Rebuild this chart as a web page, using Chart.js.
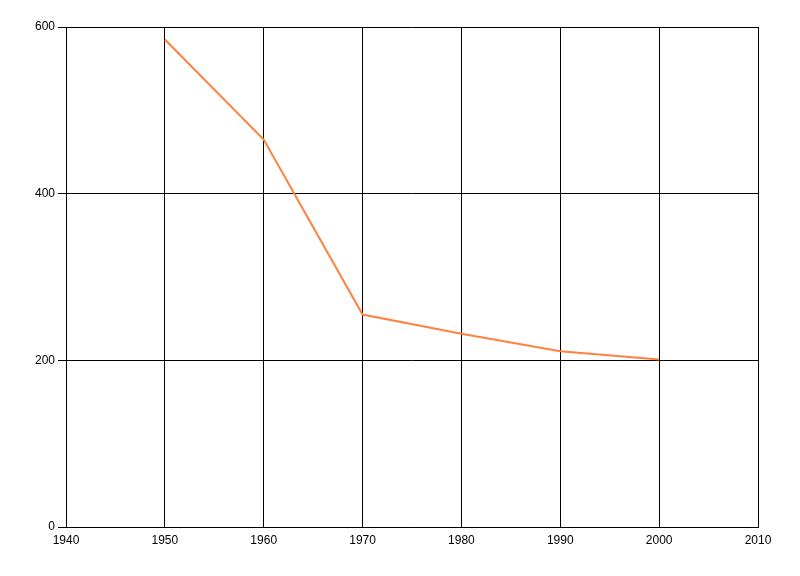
<!doctype html>
<html>
<head>
<meta charset="UTF-8">
<title>chart</title>
<style>
  html, body { margin: 0; padding: 0; background: #fff; }
</style>
</head>
<body>
<canvas id="myLineChart" width="800" height="576"></canvas>
<script src="https://cdn.jsdelivr.net/npm/chart.js@4/dist/chart.umd.min.js"></script>
<script>
// data
var years = [1950, 1960, 1970, 1980, 1990, 2000];
var values = [585, 465, 255, 232, 211, 201];
var xTicks = [1940, 1950, 1960, 1970, 1980, 1990, 2000, 2010];
var yTicks = [0, 200, 400, 600];

var points = [];
for (var i = 0; i < years.length; i++) {
  points.push({x: years[i], y: values[i]});
}

var ctx = document.getElementById("myLineChart");
var myLineChart = new Chart(ctx, {
  type: 'line',
  data: {
    datasets: [
      {
        data: points,
        borderColor: "rgb(255,128,64)",
        backgroundColor: "rgba(0,0,0,0)",
        borderWidth: 2,
        pointRadius: 0,
        tension: 0
      }
    ]
  },
  options: {
    responsive: false,
    animation: false,
    events: [],
    layout: { padding: { top: 27, right: 42, left: 0, bottom: 0 } },
    plugins: { legend: { display: false }, tooltip: { enabled: false } },
    scales: {
      x: {
        type: 'linear',
        min: xTicks[0],
        max: xTicks[xTicks.length - 1],
        afterBuildTicks: function (s) { s.ticks = xTicks.map(function (v) { return {value: v}; }); },
        afterFit: function (s) { s.height = 49; },
        grid: { color: "#000", lineWidth: 1, drawTicks: false },
        border: { color: "#000", width: 1 },
        ticks: {
          color: "#000",
          padding: 6,
          maxRotation: 0,
          font: { family: "'Liberation Sans', sans-serif", size: 12 },
          callback: function (v) { return String(v); }
        }
      },
      y: {
        min: 0,
        max: 600,
        afterBuildTicks: function (s) { s.ticks = yTicks.map(function (v) { return {value: v}; }); },
        afterFit: function (s) { s.width = 66; },
        grid: { color: "#000", lineWidth: 1, tickLength: 8 },
        border: { color: "#000", width: 1 },
        ticks: {
          color: "#000",
          padding: 3,
          font: { family: "'Liberation Sans', sans-serif", size: 12 },
          callback: function (v) { return String(v); }
        }
      }
    }
  }
});
</script>
</body>
</html>
